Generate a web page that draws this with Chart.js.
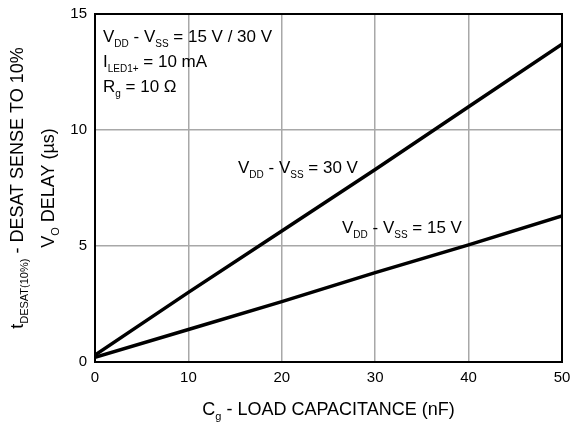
<!DOCTYPE html>
<html>
<head>
<meta charset="utf-8">
<script src="https://cdn.jsdelivr.net/npm/chart.js@4"></script>
<style>
  html, body { margin: 0; padding: 0; background: #fff; }
  #delayChart { display: block; }
</style>
</head>
<body>
<canvas id="delayChart" width="570" height="424"></canvas>
<script>
// Load capacitance (nF) and the measured delay (µs) for each supply
const loadCap = [0, 10, 20, 30, 40, 50];
const delay30V = [0.3, 3.0, 5.65, 8.3, 11.0, 13.7];
const delay15V = [0.2, 1.4, 2.6, 3.85, 5.05, 6.3];

const xTickLabels = [0, 10, 20, 30, 40, 50];
const yTickLabels = [0, 5, 10, 15];

const FONT = "'Liberation Sans', Arial, Helvetica, sans-serif";

function toPoints(xs, ys) {
  return xs.map(function (x, i) {
    return { x: x, y: ys[i] };
  });
}

// draws a run of text pieces, some of them as subscripts
function drawRich(ctx, parts, x, y, size, subSize, align) {
  let total = 0;
  parts.forEach(function (p) {
    ctx.font = (p.sub ? subSize : size) + "px " + FONT;
    total += ctx.measureText(p.t).width;
  });
  let cx = align === "center" ? x - total / 2 : x;
  parts.forEach(function (p) {
    ctx.font = (p.sub ? subSize : size) + "px " + FONT;
    ctx.fillText(p.t, cx, p.sub ? y + size * 0.3 : y);
    cx += ctx.measureText(p.t).width;
  });
}

const labelsPlugin = {
  id: "labelsPlugin",
  afterDraw: function (chart) {
    const ctx = chart.ctx;
    const area = chart.chartArea;
    const xs = chart.scales.x;
    const ys = chart.scales.y;
    ctx.save();

    // frame around the plot
    ctx.strokeStyle = "#000";
    ctx.lineWidth = 2;
    ctx.strokeRect(area.left, area.top, area.right - area.left, area.bottom - area.top);

    ctx.fillStyle = "#000";
    ctx.textBaseline = "middle";

    // tick labels
    ctx.font = "15px " + FONT;
    ctx.textAlign = "center";
    xTickLabels.forEach(function (v) {
      ctx.fillText(String(v), xs.getPixelForValue(v), area.bottom + 16);
    });
    ctx.textAlign = "right";
    yTickLabels.forEach(function (v) {
      ctx.fillText(String(v), area.left - 8, ys.getPixelForValue(v));
    });

    ctx.textAlign = "left";
    ctx.textBaseline = "alphabetic";

    // x axis title
    drawRich(ctx, [
      { t: "C" }, { t: "g", sub: true }, { t: " - LOAD CAPACITANCE (nF)" }
    ], (area.left + area.right) / 2, 415, 18, 11, "center");

    // y axis title, two rotated lines
    const midY = (area.top + area.bottom) / 2;
    ctx.save();
    ctx.translate(23, midY);
    ctx.rotate(-Math.PI / 2);
    drawRich(ctx, [
      { t: "t" }, { t: "DESAT(10%)", sub: true }, { t: " - DESAT SENSE TO 10%" }
    ], 0, 0, 18, 11, "center");
    ctx.restore();
    ctx.save();
    ctx.translate(54, midY);
    ctx.rotate(-Math.PI / 2);
    drawRich(ctx, [
      { t: "V" }, { t: "O", sub: true }, { t: " DELAY (µs)" }
    ], 0, 0, 18, 11, "center");
    ctx.restore();

    // test conditions
    drawRich(ctx, [
      { t: "V" }, { t: "DD", sub: true }, { t: " - V" }, { t: "SS", sub: true }, { t: " = 15 V / 30 V" }
    ], 103, 42, 17, 10, "left");
    drawRich(ctx, [
      { t: "I" }, { t: "LED1+", sub: true }, { t: " = 10 mA" }
    ], 103, 67, 17, 10, "left");
    drawRich(ctx, [
      { t: "R" }, { t: "g", sub: true }, { t: " = 10 Ω" }
    ], 103, 92, 17, 10, "left");

    // curve labels
    drawRich(ctx, [
      { t: "V" }, { t: "DD", sub: true }, { t: " - V" }, { t: "SS", sub: true }, { t: " = 30 V" }
    ], 238, 173, 17, 10, "left");
    drawRich(ctx, [
      { t: "V" }, { t: "DD", sub: true }, { t: " - V" }, { t: "SS", sub: true }, { t: " = 15 V" }
    ], 342, 233, 17, 10, "left");

    ctx.restore();
  },
};

const ctx = document.getElementById("delayChart").getContext("2d");
new Chart(ctx, {
  type: "line",
  data: {
    datasets: [
      {
        label: "VDD - VSS = 30 V",
        data: toPoints(loadCap, delay30V),
        borderColor: "#000",
        borderWidth: 3.5,
        pointRadius: 0,
        tension: 0,
      },
      {
        label: "VDD - VSS = 15 V",
        data: toPoints(loadCap, delay15V),
        borderColor: "#000",
        borderWidth: 3.5,
        pointRadius: 0,
        tension: 0,
      },
    ],
  },
  options: {
    responsive: false,
    maintainAspectRatio: false,
    animation: false,
    layout: {
      padding: { left: 95, right: 8, top: 14, bottom: 62 },
    },
    plugins: {
      legend: { display: false },
      tooltip: { enabled: false },
    },
    scales: {
      x: {
        type: "linear",
        min: 0,
        max: 50,
        ticks: { stepSize: 10, display: false },
        grid: { color: "#a8a8a8", lineWidth: 1.5, drawTicks: false },
        border: { display: false },
      },
      y: {
        type: "linear",
        min: 0,
        max: 15,
        ticks: { stepSize: 5, display: false },
        grid: { color: "#a8a8a8", lineWidth: 1.5, drawTicks: false },
        border: { display: false },
      },
    },
  },
  plugins: [labelsPlugin],
});
</script>
</body>
</html>
